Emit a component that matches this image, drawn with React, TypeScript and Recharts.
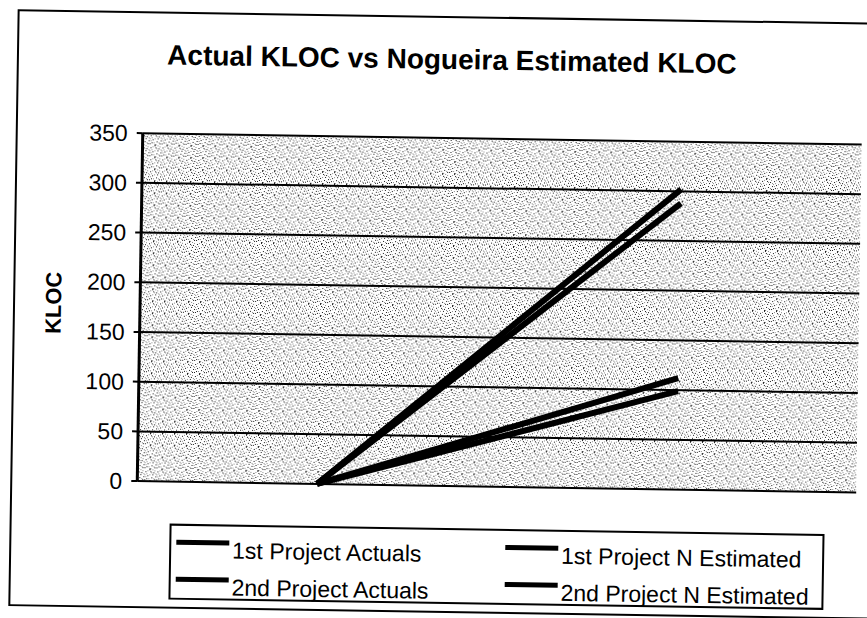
import { LineChart, Line, XAxis, YAxis, CartesianGrid, Legend } from "recharts";

const steps = ["Start", "End"];
const firstActuals = [0, 302];
const firstEstimated = [0, 288];
const secondActuals = [0, 112];
const secondEstimated = [0, 99];
const yTicks = [0, 50, 100, 150, 200, 250, 300, 350];

const data = steps.map((step, i) => ({
  step,
  firstActuals: firstActuals[i],
  firstEstimated: firstEstimated[i],
  secondActuals: secondActuals[i],
  secondEstimated: secondEstimated[i],
}));

const FONT = '"Liberation Sans", Arial, Helvetica, sans-serif';

// speckled grey fill of the scanned plot area
const darkDots = [
  [1, 2], [5, 0], [9, 3], [3, 6], [7, 8], [11, 7], [0, 10], [5, 11], [10, 10], [8, 5], [2, 9], [6, 2],
];
const lightDots = [
  [3, 1], [7, 3], [0, 5], [10, 1], [5, 5], [1, 7], [9, 9], [4, 9], [6, 11], [11, 4], [8, 0], [2, 4],
];

function Stipple() {
  return (
    <svg width={0} height={0} style={{ position: "absolute" }}>
      <defs>
        <pattern id="stipple" width={12} height={12} patternUnits="userSpaceOnUse">
          <rect width={12} height={12} fill="#fff" />
          {lightDots.map(([x, y], i) => (
            <rect key={"l" + i} x={x} y={y} width={1} height={1} fill="#8a8a8a" />
          ))}
          {darkDots.map(([x, y], i) => (
            <rect key={"d" + i} x={x} y={y} width={1} height={1} fill="#1a1a1a" />
          ))}
        </pattern>
      </defs>
    </svg>
  );
}

function KlocLabel(props: any) {
  const vb = props.viewBox || {};
  const x = (vb.x || 0) + 46;
  const y = (vb.y || 0) + (vb.height || 0) / 2 - 3;
  return (
    <text
      x={x}
      y={y}
      transform={`rotate(-90, ${x}, ${y})`}
      textAnchor="middle"
      fontFamily={FONT}
      fontWeight="bold"
      fontSize={22}
      fill="#000"
    >
      KLOC
    </text>
  );
}

function LegendBox(props: any) {
  const items = props.payload || [];
  return (
    <div
      style={{
        boxSizing: "border-box",
        width: 655,
        height: 76,
        border: "2px solid #000",
        background: "#fff",
        paddingTop: 6,
        paddingLeft: 5,
        display: "grid",
        gridTemplateColumns: "329px 1fr",
        gridTemplateRows: "37px 37px",
        fontFamily: FONT,
        fontSize: 23,
        color: "#000",
      }}
    >
      {items.map((entry: any) => (
        <div key={entry.value} style={{ position: "relative", height: 37, whiteSpace: "nowrap" }}>
          <span
            style={{
              position: "absolute",
              left: 0,
              top: 8,
              width: 53,
              height: 5,
              background: "#000",
            }}
          />
          <span style={{ position: "absolute", left: 56, top: 0, lineHeight: "37px" }}>
            {entry.value}
          </span>
        </div>
      ))}
    </div>
  );
}

export default function App() {
  return (
    <div style={{ position: "relative", width: 867, height: 618, overflow: "hidden", background: "#fff" }}>
      <style>{"html,body{margin:0;padding:0;overflow:hidden;background:#fff}"}</style>
      <Stipple />
      <div
        style={{
          position: "absolute",
          left: 13,
          top: 16,
          width: 880,
          height: 593,
          border: "2px solid #000",
          transform: "rotate(0.9deg)",
          transformOrigin: "437px 294px",
          background: "#fff",
        }}
      >
        <LineChart
          width={880}
          height={593}
          data={data}
          margin={{ top: 120, right: 36, bottom: 125, left: 0 }}
        >
          <CartesianGrid
            vertical={false}
            stroke="#000"
            strokeWidth={2}
            strokeOpacity={1}
            fill="url(#stipple)"
            fillOpacity={1}
          />
          <XAxis
            dataKey="step"
            scale="band"
            tick={false}
            tickLine={false}
            height={0}
            axisLine={{ stroke: "#000", strokeWidth: 2 }}
          />
          <YAxis
            width={125}
            domain={[0, 350]}
            ticks={yTicks}
            interval={0}
            tickSize={6}
            tickMargin={9}
            tickLine={{ stroke: "#000", strokeWidth: 2 }}
            axisLine={{ stroke: "#000", strokeWidth: 3 }}
            tick={{ fill: "#000", fontSize: 23, fontFamily: FONT }}
            label={<KlocLabel />}
          />
          <YAxis
            yAxisId="frame"
            orientation="right"
            width={0}
            domain={[0, 350]}
            tick={false}
            tickLine={false}
            axisLine={{ stroke: "#000", strokeWidth: 2 }}
          />
          <Line
            name="1st Project Actuals"
            dataKey="firstActuals"
            stroke="#000"
            strokeWidth={6}
            dot={false}
            isAnimationActive={false}
          />
          <Line
            name="1st Project N Estimated"
            dataKey="firstEstimated"
            stroke="#000"
            strokeWidth={6}
            dot={false}
            isAnimationActive={false}
          />
          <Line
            name="2nd Project Actuals"
            dataKey="secondActuals"
            stroke="#000"
            strokeWidth={6}
            dot={false}
            isAnimationActive={false}
          />
          <Line
            name="2nd Project N Estimated"
            dataKey="secondEstimated"
            stroke="#000"
            strokeWidth={6}
            dot={false}
            isAnimationActive={false}
          />
          <Legend
            layout="horizontal"
            verticalAlign="middle"
            align="center"
            wrapperStyle={{ left: 158, top: 510, width: 655, height: 76 }}
            content={<LegendBox />}
          />
        </LineChart>
        <div
          style={{
            position: "absolute",
            left: 0,
            top: 28,
            width: 866,
            textAlign: "center",
            fontFamily: FONT,
            fontWeight: "bold",
            fontSize: 28,
            lineHeight: "28px",
            color: "#000",
          }}
        >
          Actual KLOC vs Nogueira Estimated KLOC
        </div>
      </div>
    </div>
  );
}
